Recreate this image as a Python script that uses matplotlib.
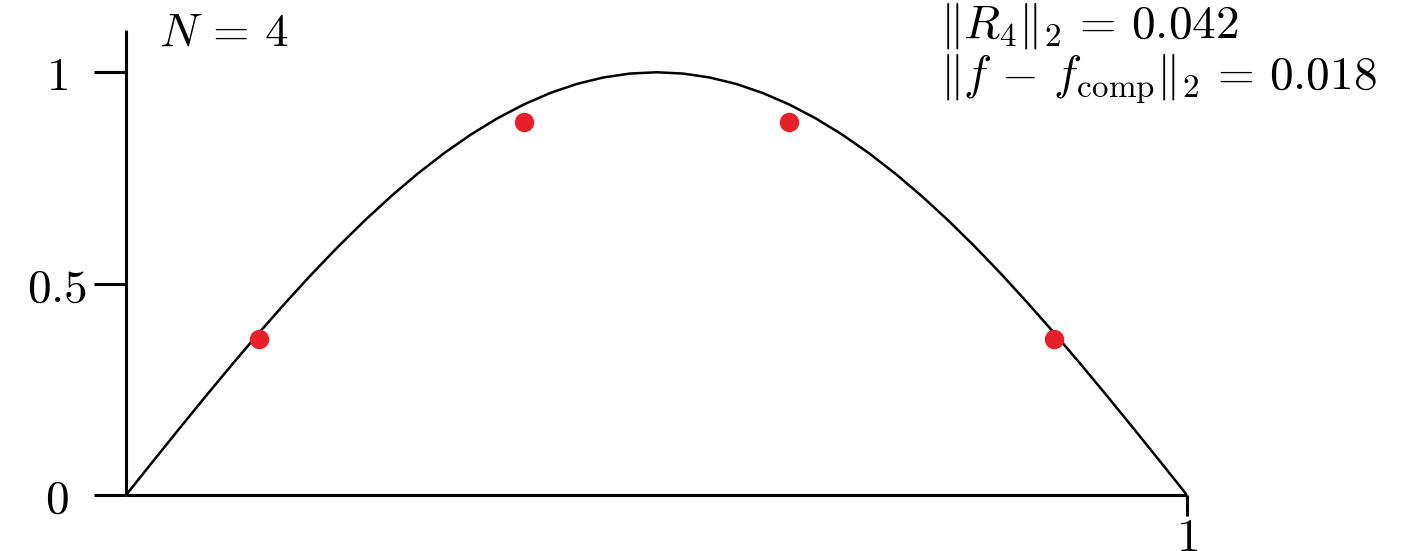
import numpy as np
import matplotlib.pyplot as plt

plt.rcParams['mathtext.fontset'] = 'cm'
plt.rcParams['font.family'] = 'serif'

# target function sampled on a uniform grid
x_grid = np.linspace(0, 1, 41)
f_vals = [0.0, 0.0785, 0.1564, 0.2334, 0.3090, 0.3827, 0.4540, 0.5225, 0.5878,
          0.6494, 0.7071, 0.7604, 0.8090, 0.8526, 0.8910, 0.9239, 0.9511, 0.9724,
          0.9877, 0.9969, 1.0, 0.9969, 0.9877, 0.9724, 0.9511, 0.9239, 0.8910,
          0.8526, 0.8090, 0.7604, 0.7071, 0.6494, 0.5878, 0.5225, 0.4540, 0.3827,
          0.3090, 0.2334, 0.1564, 0.0785, 0.0]

# compressed representation at the node points
x_nodes = [0.125, 0.375, 0.625, 0.875]
y_nodes = [0.368, 0.882, 0.882, 0.368]

N = 4
r_norm = 0.042
err_norm = 0.018

fs = 34

fig = plt.figure(figsize=(14.07, 5.51), dpi=100)
ax = fig.add_axes([0.0896, 0.1016, 0.754, 0.844])

ax.plot(x_grid, f_vals, color='black', lw=1.8, zorder=2)
ax.plot(x_nodes, y_nodes, 'o', color='#e8202a', ms=14, mec='none', zorder=3)

ax.set_xlim(0, 1)
ax.set_ylim(0, 1.1)
ax.spines['top'].set_visible(False)
ax.spines['right'].set_visible(False)
for s in ('left', 'bottom'):
    ax.spines[s].set_linewidth(2.2)
    ax.spines[s].set_capstyle('butt')

ax.set_yticks([0, 0.5, 1])
ax.set_yticklabels(['$0$', '$0.5$', '$1$'], fontsize=fs)
for lab in ax.get_yticklabels():
    lab.set_horizontalalignment('center')
ax.tick_params(axis='y', direction='out', length=23, width=2.2, pad=27)

ax.set_xticks([1])
ax.set_xticklabels(['$1$'], fontsize=fs)
ax.tick_params(axis='x', direction='out', length=15, width=2.2, pad=0)

fig.text(0.113, 0.94, rf'$N\,=\,{N}$', fontsize=fs, va='center', ha='left')
fig.text(0.668, 0.952, rf'$\Vert R_{N}\Vert_2\,=\,{r_norm:.3f}$', fontsize=fs,
         va='center', ha='left')
fig.text(0.668, 0.858, rf'$\Vert f\,-\,f_{{\rm comp}}\Vert_2\,=\,{err_norm:.3f}$',
         fontsize=fs, va='center', ha='left')

fig.savefig('out.png', dpi=100)
